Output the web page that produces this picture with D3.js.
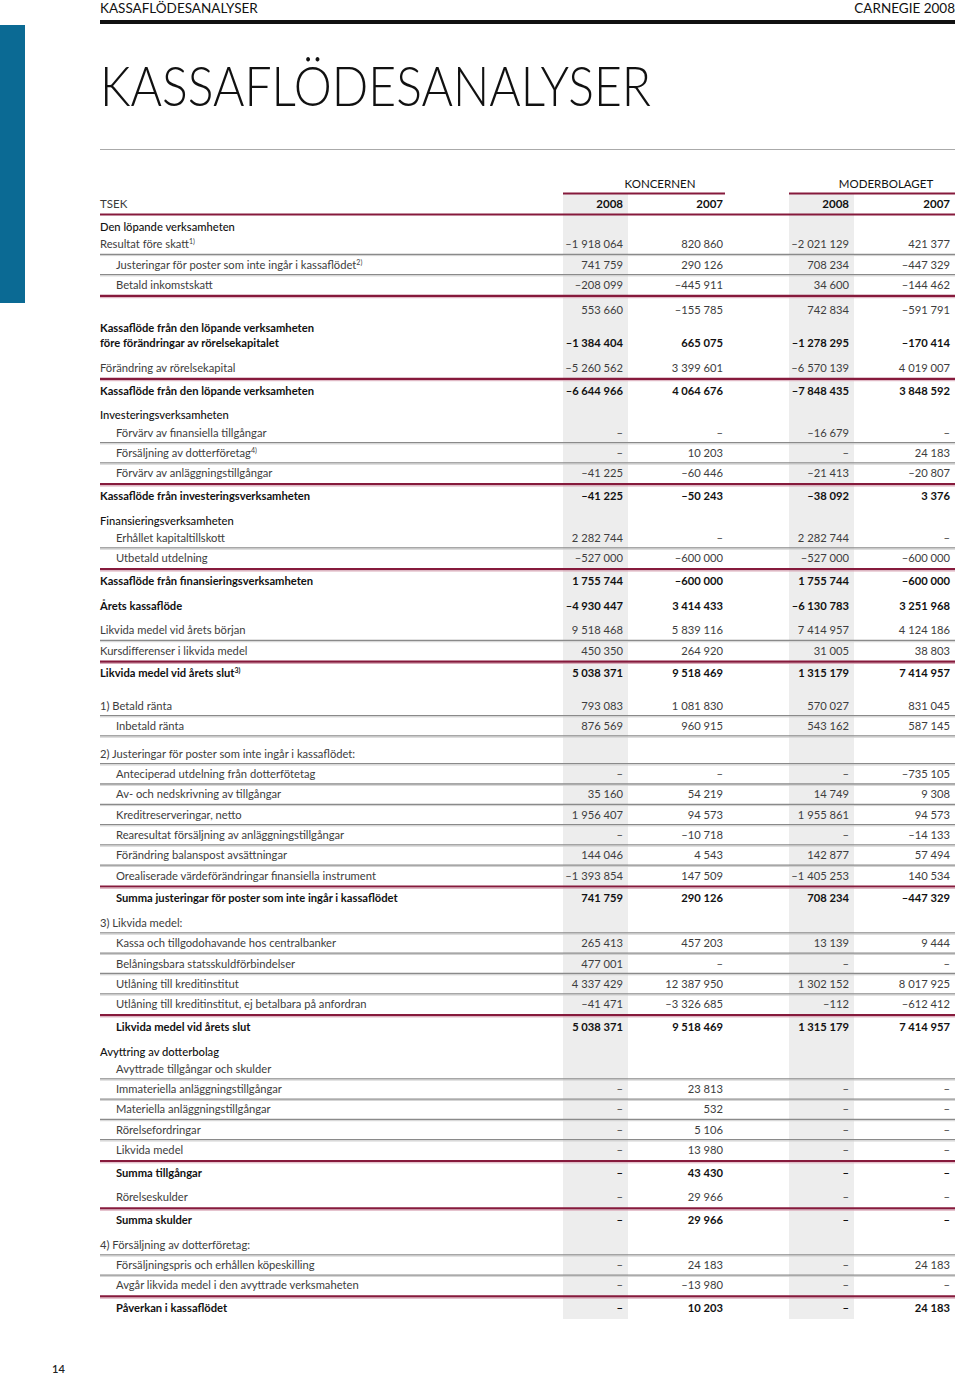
<!DOCTYPE html>
<html>
<head>
<meta charset="utf-8">
<script src="https://cdn.jsdelivr.net/npm/d3@7"></script>
<style>
  body { margin: 0; background: #fff; }
  svg { display: block; font-family: Lato, "Open Sans", sans-serif; }
</style>
</head>
<body>
<svg id="page"></svg>
<script>
// table content
var groups = ["KONCERNEN", "MODERBOLAGET"];
var columns = ["k08", "k07", "m08", "m07"];
var years = ["2008", "2007", "2008", "2007"];

var labels = [
  "Den löpande verksamheten",
  "Resultat före skatt^1)",
  "Justeringar för poster som inte ingår i kassaflödet^2)",
  "Betald inkomstskatt",
  "",
  "Kassaflöde från den löpande verksamheten|före förändringar av rörelsekapitalet",
  "Förändring av rörelsekapital",
  "Kassaflöde från den löpande verksamheten",
  "Investeringsverksamheten",
  "Förvärv av finansiella tillgångar",
  "Försäljning av dotterföretag^4)",
  "Förvärv av anläggningstillgångar",
  "Kassaflöde från investeringsverksamheten",
  "Finansieringsverksamheten",
  "Erhållet kapitaltillskott",
  "Utbetald utdelning",
  "Kassaflöde från finansieringsverksamheten",
  "Årets kassaflöde",
  "Likvida medel vid årets början",
  "Kursdifferenser i likvida medel",
  "Likvida medel vid årets slut^3)",
  "1) Betald ränta",
  "Inbetald ränta",
  "2) Justeringar för poster som inte ingår i kassaflödet:",
  "Anteciperad utdelning från dotterfötetag",
  "Av- och nedskrivning av tillgångar",
  "Kreditreserveringar, netto",
  "Rearesultat försäljning av anläggningstillgångar",
  "Förändring balanspost avsättningar",
  "Orealiserade värdeförändringar finansiella instrument",
  "Summa justeringar för poster som inte ingår i kassaflödet",
  "3) Likvida medel:",
  "Kassa och tillgodohavande hos centralbanker",
  "Belåningsbara statsskuldförbindelser",
  "Utlåning till kreditinstitut",
  "Utlåning till kreditinstitut, ej betalbara på anfordran",
  "Likvida medel vid årets slut",
  "Avyttring av dotterbolag",
  "Avyttrade tillgångar och skulder",
  "Immateriella anläggningstillgångar",
  "Materiella anläggningstillgångar",
  "Rörelsefordringar",
  "Likvida medel",
  "Summa tillgångar",
  "Rörelseskulder",
  "Summa skulder",
  "4) Försäljning av dotterföretag:",
  "Försäljningspris och erhållen köpeskilling",
  "Avgår likvida medel i den avyttrade verksmaheten",
  "Påverkan i kassaflödet"
];

// "" = empty cell, null = dash
var koncern2008 = ["", -1918064, 741759, -208099, 553660, -1384404, -5260562, -6644966,
  "", null, null, -41225, -41225, "", 2282744, -527000, 1755744, -4930447, 9518468, 450350, 5038371,
  793083, 876569, "", null, 35160, 1956407, null, 144046, -1393854, 741759,
  "", 265413, 477001, 4337429, -41471, 5038371,
  "", "", null, null, null, null, null, null, null, "", null, null, null];
var koncern2007 = ["", 820860, 290126, -445911, -155785, 665075, 3399601, 4064676,
  "", null, 10203, -60446, -50243, "", null, -600000, -600000, 3414433, 5839116, 264920, 9518469,
  1081830, 960915, "", null, 54219, 94573, -10718, 4543, 147509, 290126,
  "", 457203, null, 12387950, -3326685, 9518469,
  "", "", 23813, 532, 5106, 13980, 43430, 29966, 29966, "", 24183, -13980, 10203];
var moder2008 = ["", -2021129, 708234, 34600, 742834, -1278295, -6570139, -7848435,
  "", -16679, null, -21413, -38092, "", 2282744, -527000, 1755744, -6130783, 7414957, 31005, 1315179,
  570027, 543162, "", null, 14749, 1955861, null, 142877, -1405253, 708234,
  "", 13139, null, 1302152, -112, 1315179,
  "", "", null, null, null, null, null, null, null, "", null, null, null];
var moder2007 = ["", 421377, -447329, -144462, -591791, -170414, 4019007, 3848592,
  "", null, 24183, -20807, 3376, "", null, -600000, -600000, 3251968, 4124186, 38803, 7414957,
  831045, 587145, "", -735105, 9308, 94573, -14133, 57494, 140534, -447329,
  "", 9444, null, 8017925, -612412, 7414957,
  "", "", null, null, null, null, null, null, null, "", 24183, null, 24183];

// row styles: head = section title, line = grey rule below, maroon = red rule below,
// bold = total, plain = no rule, bold2 = two-line total, note = grey rule with space above
var kinds = ["head", "line", "line", "maroon", "plain", "bold2", "maroon", "bold",
  "head", "line", "line", "maroon", "bold", "head", "line", "maroon", "bold", "bold", "line", "maroon", "bold",
  "note", "line", "note", "line", "line", "line", "line", "line", "maroon", "bold",
  "line", "line", "line", "line", "maroon", "bold",
  "head", "line", "line", "line", "line", "maroon", "bold", "maroon", "bold", "line", "line", "maroon", "bold"];
var indents = [0, 0, 1, 1, 0, 0, 0, 0,
  0, 1, 1, 1, 0, 0, 1, 1, 0, 0, 0, 0, 0,
  0, 1, 0, 1, 1, 1, 1, 1, 1, 1,
  0, 1, 1, 1, 1, 1,
  0, 1, 1, 1, 1, 1, 1, 1, 1, 0, 1, 1, 1];

var W = 960, H = 1375;
var left = 100, right = 955;
var maroon = "#861a3c";

var svg = d3.select("#page").attr("width", W).attr("height", H);

var colX = d3.scaleOrdinal().domain(columns).range([623, 723, 849, 950]);
var indentX = d3.scaleOrdinal().domain([0, 1]).range([left, 116]);

var fmt = d3.formatLocale({ decimal: ",", thousands: " ", grouping: [3], currency: ["", ""], minus: "\u2013" }).format(",d");

// vertical layout from row styles
var gapAfter = { head: 17.3, line: 20.3, note: 20.3, maroon: 22.6, bold: 24.8, bold2: 24.8, plain: 24.8 };
var extraBefore = { plain: 2.5, bold2: 8.3, note: 7.5 };
var rows = [];
var y = 204 + 23;
labels.forEach(function (l, i) {
  if (i > 0) y += gapAfter[kinds[i - 1]] + (extraBefore[kinds[i]] || 0);
  rows.push({
    label: l, kind: kinds[i], indent: indents[i], y: y,
    values: [koncern2008[i], koncern2007[i], moder2008[i], moder2007[i]]
  });
});

// page furniture
svg.append("rect").attr("x", 0).attr("y", 25).attr("width", 25).attr("height", 278).attr("fill", "#0b6a94");
svg.append("text").attr("x", left).attr("y", 13).attr("font-size", 13.5).attr("fill", "#111").text("KASSAFLÖDESANALYSER");
svg.append("text").attr("x", right).attr("y", 13).attr("text-anchor", "end").attr("font-size", 13.5).attr("fill", "#111").text("CARNEGIE 2008");
svg.append("rect").attr("x", left).attr("y", 20).attr("width", right - left).attr("height", 4).attr("fill", "#111");
svg.append("text").attr("x", left).attr("y", 106).attr("font-size", 56).attr("font-weight", 300)
  .attr("textLength", 551).attr("lengthAdjust", "spacingAndGlyphs").attr("fill", "#111").text("KASSAFLÖDESANALYSER");
svg.append("line").attr("x1", left).attr("x2", right).attr("y1", 149.5).attr("y2", 149.5).attr("stroke", "#aaa");
svg.append("text").attr("x", 52).attr("y", 1373).attr("font-size", 11).attr("font-weight", 600).attr("fill", "#222").text("14");

// shaded 2008 columns
var bandBottom = rows[rows.length - 1].y + 11;
svg.selectAll("rect.band").data(["k08", "m08"]).enter().append("rect")
  .attr("class", "band")
  .attr("x", function (d) { return colX(d) - 60; })
  .attr("y", 194)
  .attr("width", 65)
  .attr("height", bandBottom - 194)
  .attr("fill", "#ededed");

// group headers
var groupSpan = [["k08", "k07"], ["m08", "m07"]];
groups.forEach(function (g, i) {
  var x0 = colX(groupSpan[i][0]) - 60, x1 = i === 0 ? colX(groupSpan[i][1]) + 2 : right;
  svg.append("text").attr("x", i === 0 ? 660 : 886).attr("y", 188).attr("text-anchor", "middle")
    .attr("font-size", 11.5).attr("fill", "#111").text(g);
  svg.append("line").attr("x1", x0).attr("x2", x1).attr("y1", 193.5).attr("y2", 193.5)
    .attr("stroke", maroon).attr("stroke-width", 2);
});

// year row
svg.append("text").attr("x", left).attr("y", 208).attr("font-size", 11.5).attr("fill", "#3a3a3a").text("TSEK");
svg.selectAll("text.year").data(columns).enter().append("text")
  .attr("class", "year")
  .attr("x", function (d) { return colX(d); })
  .attr("y", 208)
  .attr("text-anchor", "end")
  .attr("font-size", 11.5)
  .attr("font-weight", 700)
  .attr("fill", "#111")
  .text(function (d, i) { return years[i]; });
svg.append("line").attr("x1", left).attr("x2", right).attr("y1", 214.5).attr("y2", 214.5).attr("stroke", maroon).attr("stroke-width", 2.2);

// rules below rows
var ruled = rows.filter(function (r) { return r.kind === "line" || r.kind === "note" || r.kind === "maroon"; });
var rules = svg.selectAll("g.rule").data(ruled).enter().append("g")
  .attr("class", "rule")
  .attr("transform", function (r) { return "translate(0," + (r.y + (r.kind === "maroon" ? 11 : 10)) + ")"; });
rules.append("line")
  .attr("x1", left).attr("x2", right)
  .attr("stroke", function (r) { return r.kind === "maroon" ? maroon : "#8a8a8a"; })
  .attr("stroke-width", function (r) { return r.kind === "maroon" ? 2.2 : 1.3; });
rules.append("line")
  .attr("x1", left).attr("x2", right)
  .attr("y1", function (r) { return r.kind === "maroon" ? 1.8 : 1.3; })
  .attr("y2", function (r) { return r.kind === "maroon" ? 1.8 : 1.3; })
  .attr("stroke", function (r) { return r.kind === "maroon" ? "#d9a9b8" : "#d0d0d0"; })
  .attr("stroke-width", 1);

function weight(k) { return k === "bold" || k === "bold2" ? 700 : k === "head" ? 500 : 400; }
function color(k) { return k === "bold" || k === "bold2" || k === "head" ? "#111" : "#3d3d3d"; }

var rowG = svg.selectAll("g.row").data(rows).enter().append("g")
  .attr("class", "row")
  .attr("transform", function (r) { return "translate(0," + (r.y + 4) + ")"; });

// labels (| splits a two-line label, ^ marks a footnote)
rowG.each(function (r) {
  var g = d3.select(this);
  var lines = r.label.split("|");
  lines.forEach(function (line, j) {
    var parts = line.split("^");
    var t = g.append("text")
      .attr("x", indentX(r.indent))
      .attr("y", (j - (lines.length - 1)) * 15)
      .attr("font-size", 11.2)
      .attr("font-weight", weight(r.kind))
      .attr("fill", color(r.kind));
    t.append("tspan").text(parts[0]);
    if (parts[1]) {
      t.append("tspan").attr("dy", -4).attr("font-size", 7).text(parts[1]);
    }
  });
});

// values
rowG.selectAll("text.val")
  .data(function (r) { return r.values.map(function (v, i) { return { v: v, col: columns[i], kind: r.kind }; }); })
  .enter().filter(function (d) { return d.v !== ""; }).append("text")
  .attr("class", "val")
  .attr("x", function (d) { return colX(d.col); })
  .attr("text-anchor", "end")
  .attr("font-size", 11.2)
  .attr("font-weight", function (d) { return weight(d.kind); })
  .attr("fill", function (d) { return color(d.kind); })
  .text(function (d) { return d.v === null ? "\u2013" : fmt(d.v); });
</script>
</body>
</html>
